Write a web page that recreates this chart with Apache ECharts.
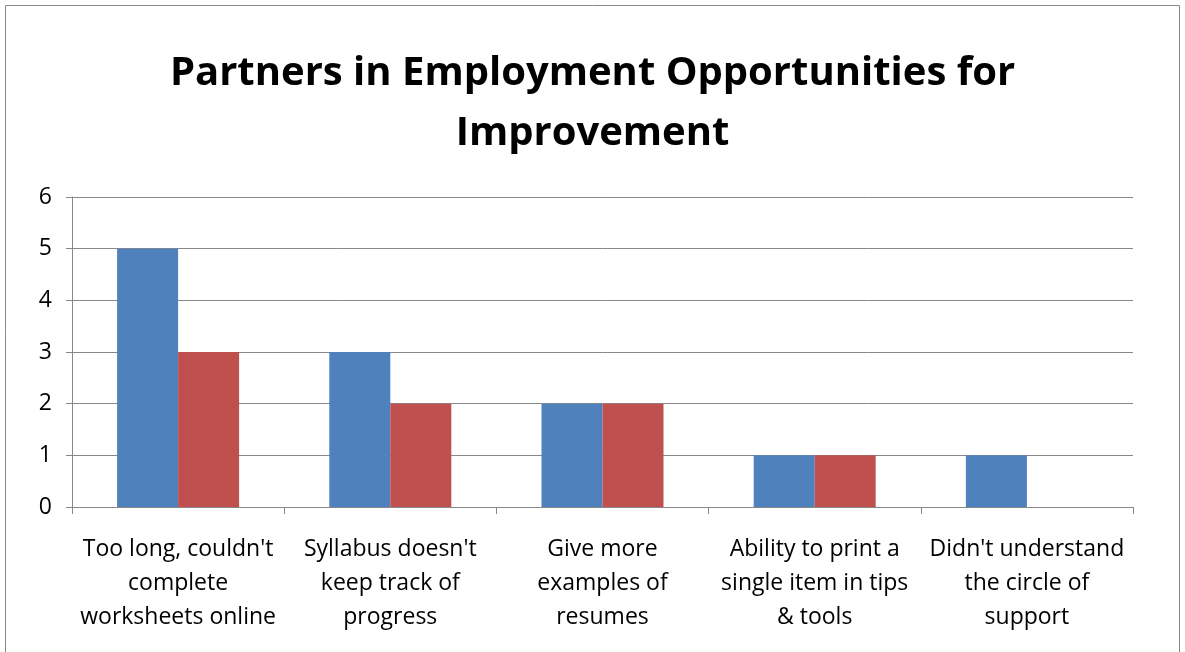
<!DOCTYPE html>
<html><head><meta charset="utf-8">
<script src="https://cdn.jsdelivr.net/npm/echarts@6/dist/echarts.min.js"></script>
<style>html,body{margin:0;padding:0;background:#fff}#c{width:1185px;height:652px}</style>
</head><body><div id="c"></div>
<script>
const categories = [
  "Too long, couldn't\ncomplete\nworksheets online",
  "Syllabus doesn't\nkeep track of\nprogress",
  "Give more\nexamples of\nresumes",
  "Ability to print a\nsingle item in tips\n& tools",
  "Didn't understand\nthe circle of\nsupport"
];
const seriesA = [5, 3, 2, 1, 1];
const seriesB = [3, 2, 2, 1, 0];
const yTicks = {min: 0, max: 6, interval: 1};
const titleText = "Partners in Employment Opportunities for\nImprovement";

const chart = echarts.init(document.getElementById('c'));
const font = "Open Sans, Noto Sans, sans-serif";
chart.setOption({
  animation: false,
  backgroundColor: '#fff',
  title: {
    text: titleText, left: 'center', top: 39,
    textStyle: {fontFamily: font, fontWeight: 'bold', fontSize: 40, lineHeight: 60, color: '#000'}
  },
  graphic: [{type: 'rect', shape: {x: 5.5, y: 5.5, width: 1174, height: 700}, style: {fill: 'none', stroke: '#888', lineWidth: 1}}],
  grid: {left: 72, right: 52, top: 197, bottom: 145},
  xAxis: {
    type: 'category', data: categories,
    axisLine: {lineStyle: {color: '#888'}},
    axisTick: {show: true, length: 7, lineStyle: {color: '#888'}},
    axisLabel: {interval: 0, color: '#000', fontFamily: font, fontSize: 23, lineHeight: 34, margin: 25}
  },
  yAxis: {
    type: 'value', min: yTicks.min, max: yTicks.max, interval: yTicks.interval,
    axisLine: {show: true, lineStyle: {color: '#888'}},
    axisTick: {show: true, length: 6, lineStyle: {color: '#888'}},
    splitLine: {lineStyle: {color: '#888'}},
    axisLabel: {color: '#000', fontFamily: font, fontSize: 23, margin: 20}
  },
  series: [
    {type: 'bar', data: seriesA, itemStyle: {color: '#4F81BD'}, barGap: '0%', barCategoryGap: '42.5%'},
    {type: 'bar', data: seriesB, itemStyle: {color: '#C0504D'}, barGap: '0%', barCategoryGap: '42.5%'}
  ]
});
</script></body></html>
